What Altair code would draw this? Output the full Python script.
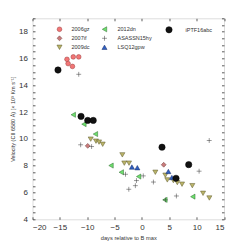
import altair as alt
import pandas as pd

# ---- data ----
gz_x = [-13.7, -13.5, -12.55, -11.55, -12.7]
gz_y = [15.94, 15.62, 16.12, 16.12, 15.41]

if_x = [-9.91, 3.98]
if_y = [9.48, 8.07]

dc_x = [-9.36, -8.4, -7.84, -7.17, -3.58, -3.22, -2.36, 2.45, 4.28, 4.64, 5.74, 6.47, 7.33, 9.21, 11.17, 12.32]
dc_y = [9.98, 9.83, 9.76, 9.6, 8.81, 8.19, 8.19, 7.51, 7.29, 6.94, 6.89, 6.74, 6.62, 6.51, 5.94, 5.59]

dn_x = [-12.55, -10.6, -8.5, -5.65, -3.77, -0.6, 4.2, 9.3]
dn_y = [11.8, 11.1, 10.36, 8.01, 7.51, 7.19, 5.45, 5.69]

hy_x = [-11.55, -11.2, -9.2, -3.0, -1.0, -1.2, -2.4, 0.25, 2.1, 4.3, 6.3, 10.45, 12.3]
hy_y = [14.82, 9.56, 9.43, 7.36, 6.89, 6.51, 6.24, 7.24, 6.78, 5.45, 5.74, 7.59, 9.88]

gpw_x = [-1.83, -0.84, 4.83, 5.47]
gpw_y = [7.9, 7.85, 7.57, 7.12]

abc_x = [-15.34, -11.13, -9.91, -8.9, 3.67, 8.55, 6.23]
abc_y = [15.14, 11.68, 11.38, 11.38, 9.38, 8.08, 7.06]

x_ticks = [-20, -15, -10, -5, 0, 5, 10, 15]
y_ticks = [4 + 0.5 * i for i in range(31)]

PLUS = "M-1,0L1,0M0,-1L0,1"
STYLE = {
    "2006gz":     dict(shape="circle",        fill="#f27676", stroke="#9a3c3c", size=22),
    "2007if":     dict(shape="diamond",       fill="#c97b7b", stroke="#6b3b3b", size=24),
    "2009dc":     dict(shape="triangle-down", fill="#bab46a", stroke="#5c5828", size=26),
    "2012dn":     dict(shape="triangle-left", fill="#6ee06e", stroke="#2c6a2c", size=26),
    "ASASSN15hy": dict(shape=PLUS,            fill="transparent", stroke="#333333", size=24),
    "LSQ12gpw":   dict(shape="triangle-up",   fill="#2f5fc0", stroke="#1a2f6a", size=26),
    "iPTF16abc":  dict(shape="circle",        fill="#111111", stroke="#000000", size=40),
}

def frame(name, xs, ys):
    return pd.DataFrame({"x": xs, "y": ys, "series": name})

groups = [
    [("2006gz", gz_x, gz_y), ("2007if", if_x, if_y), ("2009dc", dc_x, dc_y)],
    [("2012dn", dn_x, dn_y), ("ASASSN15hy", hy_x, hy_y), ("LSQ12gpw", gpw_x, gpw_y)],
    [("iPTF16abc", abc_x, abc_y)],
]
legend_x = [24, 69, 133]
legend_offset = [9, 10, 13]

FONT = "Liberation Sans"
x_scale = alt.Scale(domain=[-20, 15], nice=False, zero=False)
y_scale = alt.Scale(domain=[4, 19], nice=False, zero=False)

common_tick = dict(domain=False, grid=False, tickSize=2.5, offset=-2.5,
                   tickColor="#333333", tickWidth=0.8)

x_axes = [
    alt.Axis(orient="bottom", values=x_ticks, labelFontSize=8, labelFont=FONT,
             labelColor="#333333", labelPadding=4, title="days relative to B max",
             titleFont=FONT, titleFontSize=5.7, titleFontWeight="normal",
             titleColor="#333333", titlePadding=3, **common_tick),
    alt.Axis(orient="top", values=x_ticks, labels=False, title=None, **common_tick),
    None,
]
y_axes = [
    alt.Axis(orient="left", values=y_ticks,
             labelExpr="datum.value % 2 == 0 ? format(datum.value, 'd') : ''",
             labelFontSize=8, labelFont=FONT, labelColor="#333333", labelPadding=5,
             title="Velocity (CII 6580 Å) [× 10³ Km s⁻¹]", titleFont=FONT,
             titleFontSize=5.5, titleFontWeight="normal", titleColor="#333333",
             titlePadding=3, **common_tick),
    alt.Axis(orient="right", values=y_ticks, labels=False, title=None, **common_tick),
    None,
]

layers = []
for gi, grp in enumerate(groups):
    data = pd.concat([frame(n, xs, ys) for n, xs, ys in grp], ignore_index=True)
    names = [n for n, _, _ in grp]
    leg = alt.Legend(title=None, orient="none", legendX=legend_x[gi], legendY=8,
                     direction="vertical", labelFont=FONT, labelFontSize=5.5,
                     labelColor="#333333", labelOffset=legend_offset[gi], rowPadding=1,
                     padding=0, symbolStrokeWidth=0.5)
    def sc(key):
        return alt.Scale(type="ordinal", domain=names, range=[STYLE[n][key] for n in names])
    layer = alt.Chart(data).mark_point(filled=True, strokeWidth=0.5, opacity=1).encode(
        x=alt.X("x:Q", scale=x_scale, axis=x_axes[gi]),
        y=alt.Y("y:Q", scale=y_scale, axis=y_axes[gi]),
        shape=alt.Shape("series:N", scale=sc("shape"), legend=leg),
        fill=alt.Fill("series:N", scale=sc("fill"), legend=leg),
        stroke=alt.Stroke("series:N", scale=sc("stroke"), legend=leg),
        size=alt.Size("series:N", scale=sc("size"), legend=leg),
    )
    layers.append(layer)

chart = alt.layer(*layers).resolve_scale(
    shape="independent", fill="independent", stroke="independent", size="independent"
).resolve_axis(x="independent", y="independent").properties(
    width=191.5, height=201,
    autosize=alt.AutoSizeParams(type="none"),
    padding={"left": 24.5, "top": 10.3, "right": 8, "bottom": 28},
).configure_view(stroke="#222222", strokeWidth=0.8).configure(background="white")

chart.save("out.html", embed_options={"renderer": "svg", "actions": False})
